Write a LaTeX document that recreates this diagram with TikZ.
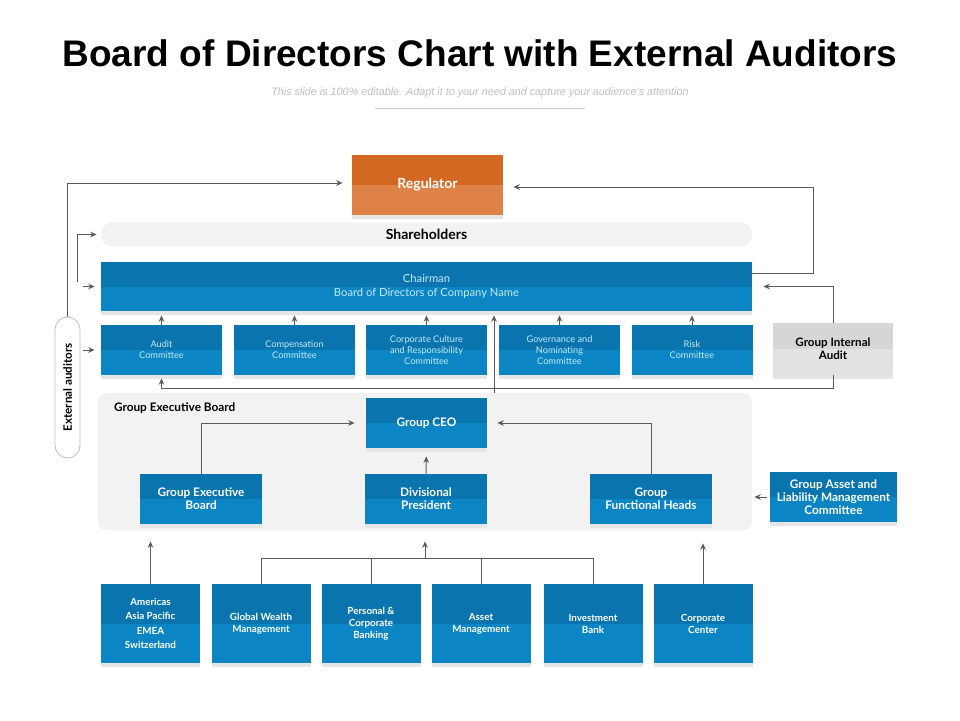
\documentclass[tikz,border=0pt]{standalone}
\usepackage{fontspec}
\setmainfont{Lato}
\newfontfamily\titlefont{Liberation Sans}
\usetikzlibrary{positioning}
\usetikzlibrary{arrows.meta}
\usetikzlibrary{shadows}
\definecolor{bluetop}{RGB}{9,116,174}
\definecolor{bluebot}{RGB}{11,133,195}
\definecolor{orangetop}{RGB}{211,104,34}
\definecolor{orangebot}{RGB}{222,130,72}
\definecolor{greytop}{RGB}{214,214,214}
\definecolor{greybot}{RGB}{226,226,226}
\definecolor{panelgrey}{RGB}{242,242,242}
\definecolor{linegrey}{RGB}{90,90,90}
\definecolor{paletext}{RGB}{196,234,250}
\tikzset{
    box/.style = {rectangle, inner sep=1pt, align=center, text=white,
        general shadow={fill=black!10, shadow yshift=-2pt}},
    bluebox/.style = {box, fill=bluebot,
        path picture={\fill[bluetop] (path picture bounding box.north west) rectangle (path picture bounding box.east);}},
    orangebox/.style = {box, fill=orangebot,
        path picture={\fill[orangetop] (path picture bounding box.north west) rectangle (path picture bounding box.east);}},
    greybox/.style = {box, text=black, fill=greybot,
        path picture={\fill[greytop] (path picture bounding box.north west) rectangle (path picture bounding box.east);}},
    combox/.style = {bluebox, minimum width=60.5pt, minimum height=25pt, text=paletext,
        font=\fontsize{4.6pt}{5.6pt}\selectfont},
    midbox/.style = {bluebox, minimum width=61pt, minimum height=25pt,
        font=\bfseries\fontsize{5.9pt}{6.6pt}\selectfont},
    botbox/.style = {bluebox, minimum width=49.5pt, minimum height=39.5pt,
        font=\bfseries\fontsize{4.9pt}{6pt}\selectfont},
    pill/.style = {rectangle, rounded corners=5.75pt, fill=panelgrey, minimum width=325.5pt,
        minimum height=11.5pt, font=\bfseries\fontsize{7pt}{8pt}\selectfont},
    edgea/.style = {-{Stealth[length=3.2pt,width=2.8pt]}, line width=0.5pt, draw=linegrey},
    edgel/.style = {line width=0.5pt, draw=linegrey}
}
\begin{document}
\begin{tikzpicture}[x=0.5pt, y=-0.5pt]
  \useasboundingbox[fill=white] (0,0) rectangle (960,720);

  % heading
  \node[font=\titlefont\bfseries\fontsize{18.5pt}{22pt}\selectfont] (title) at (480,53)
    {Board of Directors Chart with External Auditors};
  \node[font=\titlefont\itshape\fontsize{5.4pt}{6.4pt}\selectfont, text=black!25] (subtitle) at (480,93)
    {This slide is 100\% editable. Adapt it to your need and capture your audience's attention};
  \draw[black!20, line width=0.4pt] (375,108) -- (585,108);

  % board level
  \node[orangebox, minimum width=75.5pt, minimum height=30pt,
        font=\bfseries\fontsize{7pt}{8pt}\selectfont] (regulator) at (427.5,185) {Regulator};
  \node[pill] (share) at (426.5,234.5) {Shareholders};
  \node[bluebox, minimum width=325.5pt, minimum height=24.5pt, text=paletext,
        font=\fontsize{5.6pt}{7pt}\selectfont] (chair) at (426.5,286.5)
    {Chairman\\Board of Directors of Company Name};

  \node[combox] (audit) at (161.5,350) {Audit\\Committee};
  \node[combox] (comp) at (294.5,350) {Compensation\\Committee};
  \node[combox] (culture) at (426.5,350) {Corporate Culture\\and Responsibility\\Committee};
  \node[combox] (gov) at (559.5,350) {Governance and\\Nominating\\Committee};
  \node[combox] (risk) at (692,350) {Risk\\Committee};
  \node[greybox, minimum width=60pt, minimum height=26pt,
        font=\bfseries\fontsize{5.8pt}{6.6pt}\selectfont] (gia) at (833,349) {Group Internal\\Audit};

  \node[rectangle, rounded corners=6.25pt, draw=black!25, line width=0.4pt, fill=white,
        minimum width=12.5pt, minimum height=70.5pt] (ext) at (67.5,387.5) {};
  \node[rotate=90, font=\bfseries\fontsize{5.8pt}{6.5pt}\selectfont] (extlabel) at (ext.center) {External auditors};

  % executive level
  \node[rectangle, rounded corners=4pt, fill=panelgrey, minimum width=327pt,
        minimum height=68.5pt] (panel) at (425,461.5) {};
  \node[anchor=west, font=\bfseries\fontsize{5.9pt}{6.6pt}\selectfont] (panellabel) at (107,408)
    {Group Executive Board};
  \node[midbox, minimum width=60.5pt] (ceo) at (426.5,423) {Group CEO};
  \node[midbox] (geb) at (201,499) {Group Executive\\Board};
  \node[midbox] (dp) at (426,499) {Divisional\\President};
  \node[midbox] (gfh) at (651,499) {Group\\Functional Heads};
  \node[midbox, minimum width=63.5pt, font=\bfseries\fontsize{5.9pt}{6.5pt}\selectfont] (galmc) at (833.5,497)
    {Group Asset and\\Liability Management\\Committee};

  % divisions
  \node[botbox, font=\bfseries\fontsize{4.9pt}{7.2pt}\selectfont] (amer) at (150.5,623.5)
    {Americas\\Asia Pacific\\EMEA\\Switzerland};
  \node[botbox] (gwm) at (261,623.5) {Global Wealth\\Management};
  \node[botbox] (pcb) at (371,623.5) {Personal \&\\Corporate\\Banking};
  \node[botbox] (am) at (481,623.5) {Asset\\Management};
  \node[botbox] (ib) at (593,623.5) {Investment\\Bank};
  \node[botbox] (cc) at (703,623.5) {Corporate\\Center};

  % connectors
  \draw[edgea, shorten >=5pt] ([yshift=6.75pt]chair.east) -- ++(61,0) |- ([yshift=-1pt]regulator.east);
  \draw[edgea, shorten >=5.5pt] (gia.north) |- (chair.east);
  \draw[edgea, shorten >=1.5pt] (gia.south) -- ++(0,13) -| (audit.south);
  \foreach \c in {audit,comp,culture,gov,risk}
    \draw[edgea, shorten >=2pt] (\c.north) -- (\c.north |- chair.south);
  \draw[edgea, shorten >=2pt] (panel.north -| 494,0) -- (chair.south -| 494,0);

  \draw[edgea, shorten >=4.5pt] (ext.north) |- ([yshift=1pt]regulator.west);
  \coordinate (extb) at (77,282);
  \draw[edgea, shorten >=2pt] (extb) |- (share.west);
  \draw[edgea, shorten >=3pt] ([xshift=-9pt]chair.west) -- (chair.west);
  \draw[edgea, shorten >=3pt] ([xshift=-9pt]audit.west) -- (audit.west);

  \draw[edgea, shorten >=5.5pt] (geb.north) |- (ceo.west);
  \draw[edgea, shorten >=4pt] (dp.north) -- (ceo.south);
  \draw[edgea, shorten >=5pt] (gfh.north) |- (ceo.east);
  \draw[edgea, shorten <=1.5pt, shorten >=1pt] (galmc.west) -- (panel.east |- galmc.west);

  \coordinate (bus) at (425,558);
  \draw[edgea, shorten >=5.5pt] (amer.north) -- (amer.north |- panel.south);
  \draw[edgel] (gwm.north) |- (bus) -| (ib.north);
  \foreach \b in {pcb,am}
    \draw[edgel] (\b.north) -- (\b.north |- bus);
  \draw[edgea, shorten >=5.5pt] (bus) -- (bus |- panel.south);
  \draw[edgea, shorten >=6.5pt] (cc.north) -- (cc.north |- panel.south);
\end{tikzpicture}
\end{document}
